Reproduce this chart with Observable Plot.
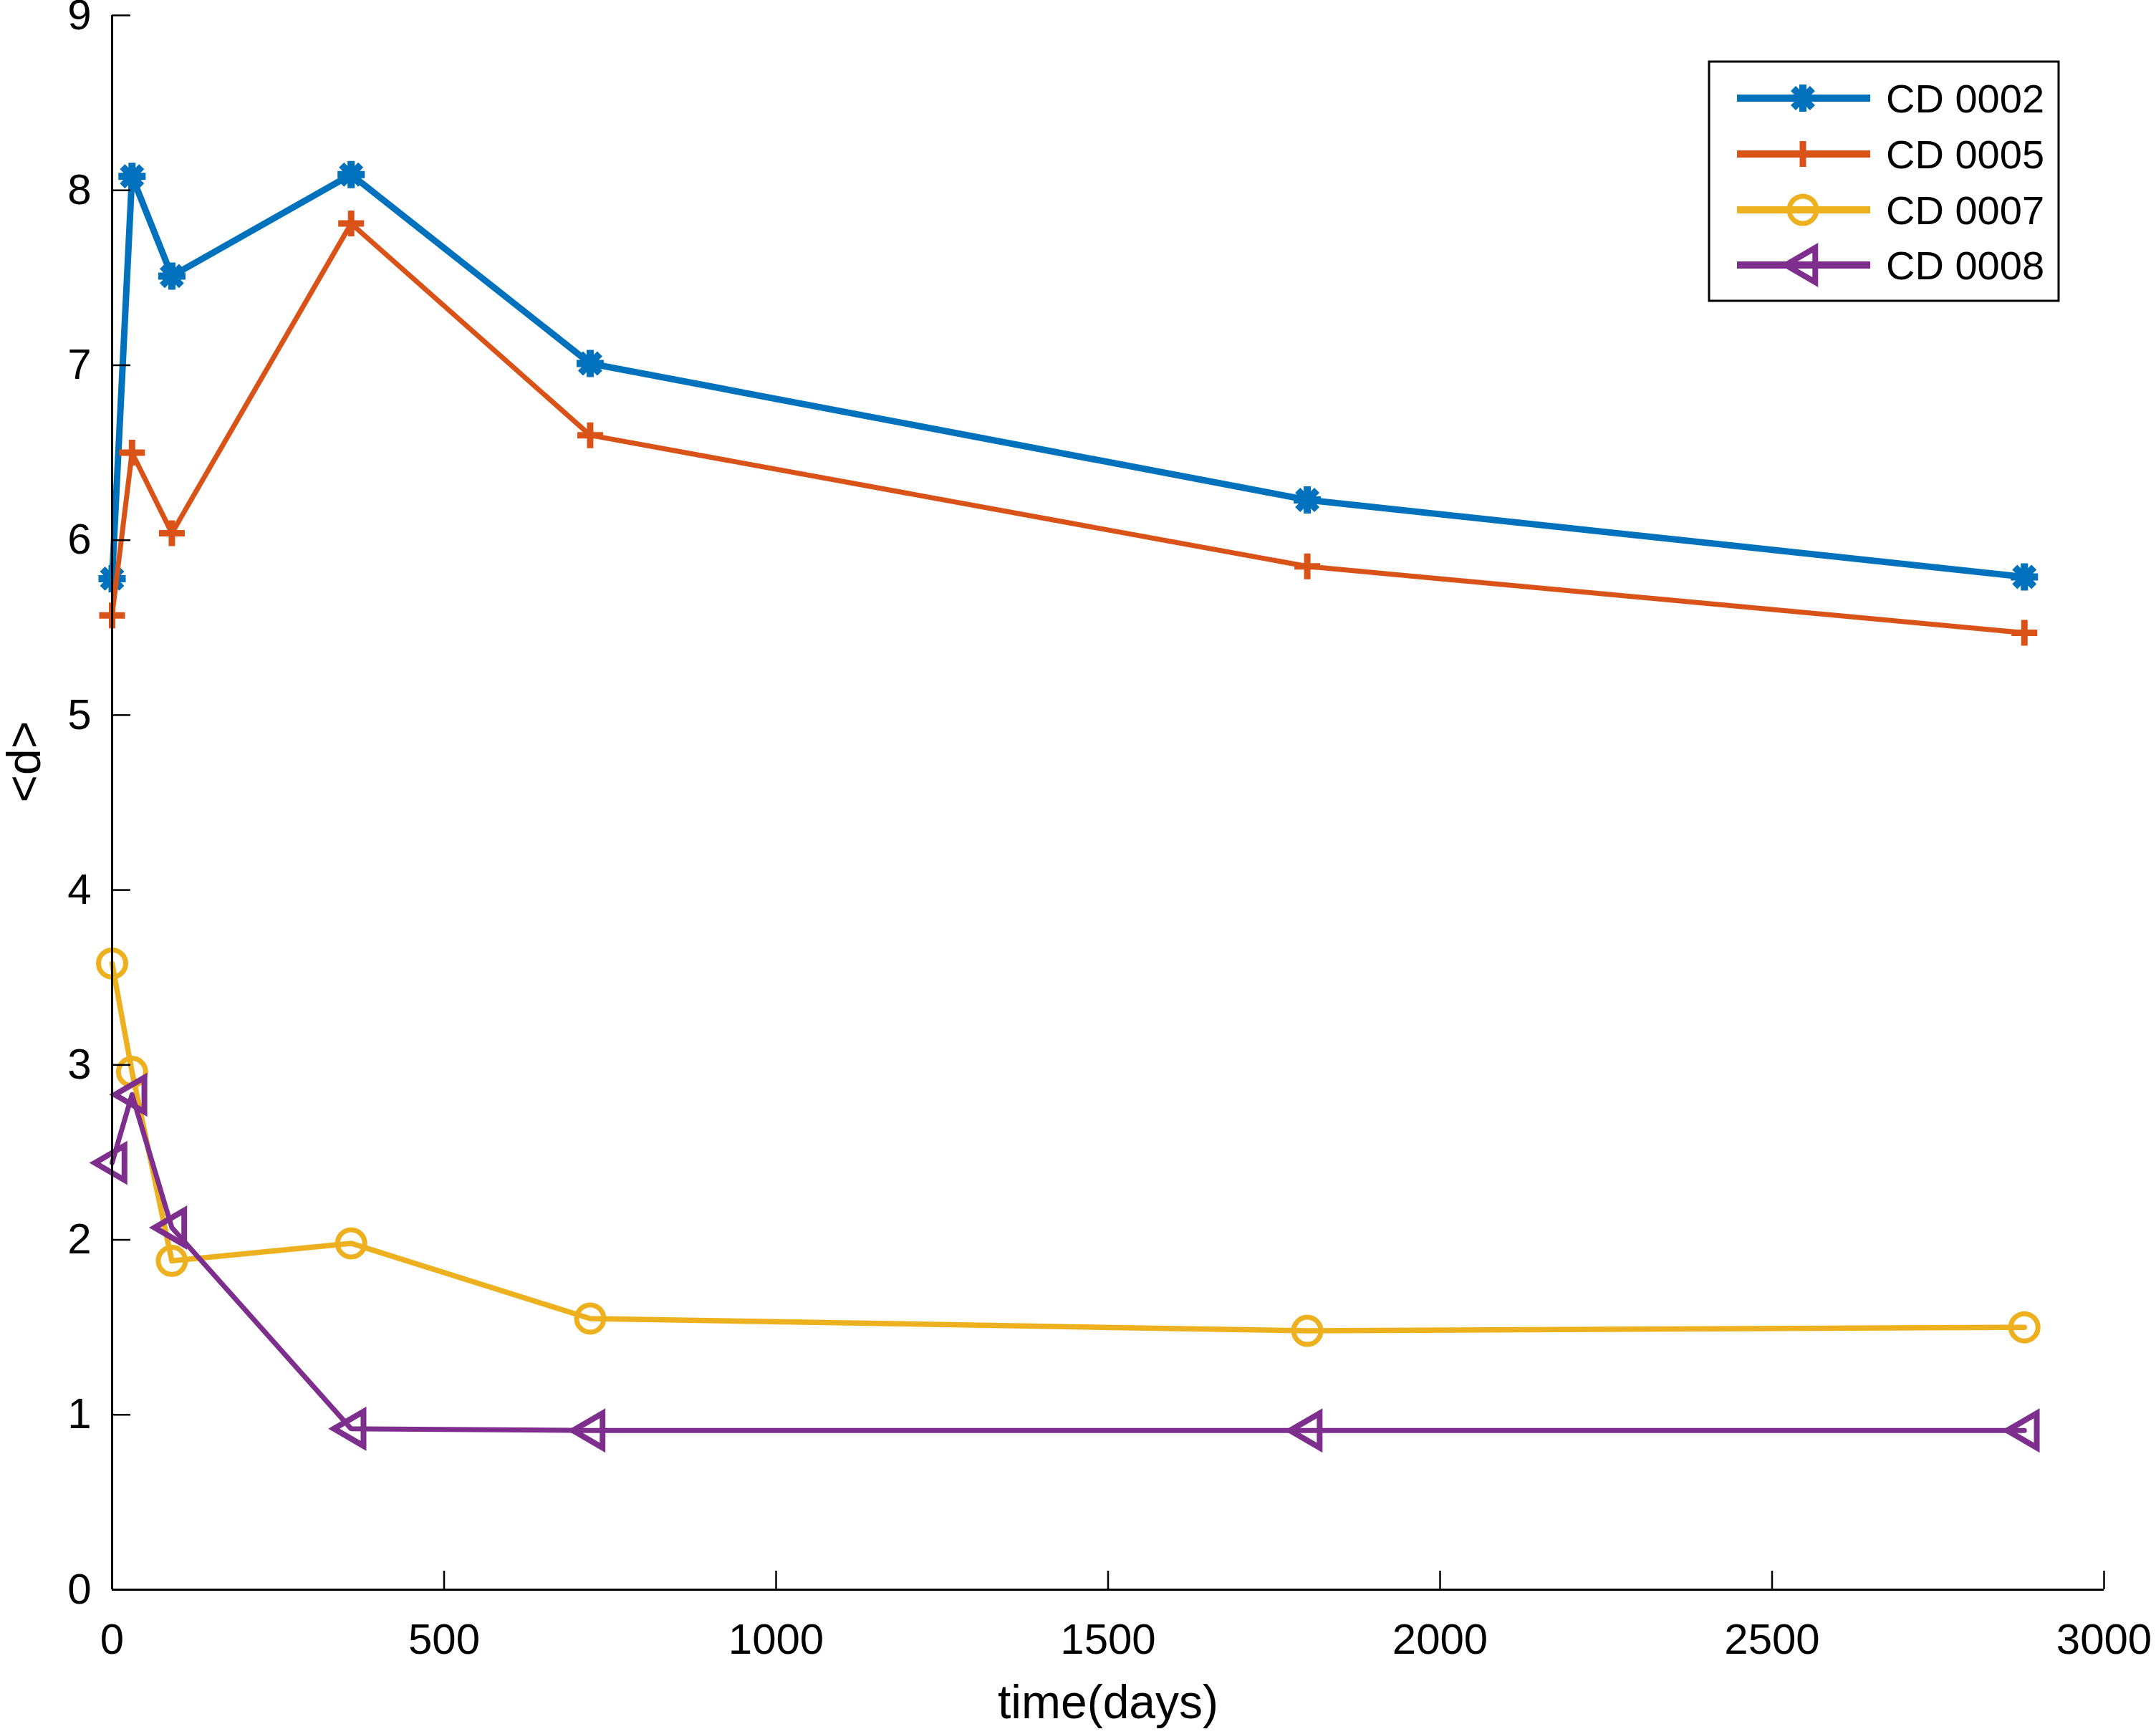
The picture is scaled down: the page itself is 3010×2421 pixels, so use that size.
<!DOCTYPE html>
<html><head><meta charset="utf-8">
<script src="https://cdn.jsdelivr.net/npm/d3@7"></script>
<script src="https://cdn.jsdelivr.net/npm/@observablehq/plot@0.6"></script>
<style>body{margin:0;background:#fff}</style>
</head><body><div id="chart"></div>
<script>
// ---- data ----
const days = [0, 30, 90, 360, 720, 1800, 2880];
const seriesNames = ["CD 0002", "CD 0005", "CD 0007", "CD 0008"];
const cd0002 = [5.78, 8.08, 7.51, 8.09, 7.01, 6.23, 5.79];
const cd0005 = [5.57, 6.50, 6.04, 7.81, 6.60, 5.85, 5.47];
const cd0007 = [3.58, 2.96, 1.88, 1.98, 1.55, 1.48, 1.50];
const cd0008 = [2.44, 2.83, 2.07, 0.92, 0.91, 0.91, 0.91];
const xTicks = [0, 500, 1000, 1500, 2000, 2500, 3000];
const yTicks = [0, 1, 2, 3, 4, 5, 6, 7, 8, 9];
const xLabel = "time(days)";
const yLabel = "<d>";
const colors = ["#0072BD", "#D95319", "#EDB120", "#7E2F8E"];

// ---- marker shapes ----
const rad = size => Math.sqrt(size / Math.PI);
const asterisk = {draw(c, s) { const r = rad(s); for (let i = 0; i < 4; i++) { const a = i * Math.PI / 4; c.moveTo(-r * Math.cos(a), -r * Math.sin(a)); c.lineTo(r * Math.cos(a), r * Math.sin(a)); } }};
const plus = {draw(c, s) { const r = rad(s); c.moveTo(-r, 0); c.lineTo(r, 0); c.moveTo(0, -r); c.lineTo(0, r); }};
const ring = {draw(c, s) { const r = rad(s); c.moveTo(r, 0); c.arc(0, 0, r, 0, 2 * Math.PI); c.closePath(); }};
const triLeft = {draw(c, s) { const r = rad(s); c.moveTo(-r, 0); c.lineTo(0.72 * r, -r); c.lineTo(0.72 * r, r); c.closePath(); }};

const values = [cd0002, cd0005, cd0007, cd0008];
const symbols = [asterisk, plus, ring, triLeft];
const lineWidths = [9, 7, 7.5, 7];
const markR = [19, 18, 19, 24];
const markW = [10, 9, 7, 8];

const marks = [];
seriesNames.forEach((name, k) => {
  const rows = days.map((d, i) => ({day: d, value: values[k][i], series: name}));
  marks.push(Plot.line(rows, {x: "day", y: "value", stroke: colors[k], strokeWidth: lineWidths[k], strokeLinejoin: "round"}));
  marks.push(Plot.dot(rows, {x: "day", y: "value", stroke: colors[k], fill: "none", symbol: symbols[k], r: markR[k], strokeWidth: markW[k]}));
});

const plot = Plot.plot({
  width: 3010, height: 2421,
  marginLeft: 156, marginRight: 73, marginTop: 21, marginBottom: 202,
  style: {fontFamily: "'Liberation Sans', Arial, sans-serif", fontSize: "60px", color: "black", background: "white"},
  x: {domain: [0, 3000], axis: null},
  y: {domain: [0, 9], axis: null},
  marks: [
    ...marks,
    Plot.axisX(xTicks, {tickSize: -26, tickPadding: 73, tickFormat: d3.format("d"), strokeWidth: 2.5, label: null, fontSize: 60}),
    Plot.axisY(yTicks, {tickSize: -26, tickPadding: 55, tickFormat: d3.format("d"), strokeWidth: 2.5, label: null, fontSize: 60}),
    Plot.ruleX([0], {stroke: "black", strokeWidth: 3}),
    Plot.ruleY([0], {stroke: "black", strokeWidth: 3}),
    Plot.text([xLabel], {frameAnchor: "bottom", dy: 158, fontSize: 66, lineAnchor: "middle", fill: "black"}),
    Plot.text([yLabel], {frameAnchor: "left", dx: -122, rotate: -90, fontSize: 66, lineAnchor: "middle", fill: "black"})
  ]
});

// ---- legend (inside the axes, top right) ----
const svg = d3.select(plot);
const lg = svg.append("g").attr("text-anchor", "start");
lg.append("rect").attr("x", 2386).attr("y", 86).attr("width", 488).attr("height", 334)
  .attr("fill", "white").attr("stroke", "black").attr("stroke-width", 3);
const rowsY = [137, 215, 293, 370];
seriesNames.forEach((name, k) => {
  const y = rowsY[k];
  lg.append("line").attr("x1", 2425).attr("x2", 2611).attr("y1", y).attr("y2", y)
    .attr("stroke", colors[k]).attr("stroke-width", 10);
  const p = d3.path();
  symbols[k].draw(p, Math.PI * markR[k] * markR[k]);
  lg.append("path").attr("d", p.toString()).attr("transform", `translate(2517,${y})`)
    .attr("fill", "none").attr("stroke", colors[k]).attr("stroke-width", markW[k]);
  lg.append("text").attr("x", 2633).attr("y", y).attr("dy", "0.35em")
    .attr("text-anchor", "start").attr("font-size", 56).attr("fill", "black").text(name);
});

document.getElementById("chart").appendChild(plot);
</script>
</body></html>
